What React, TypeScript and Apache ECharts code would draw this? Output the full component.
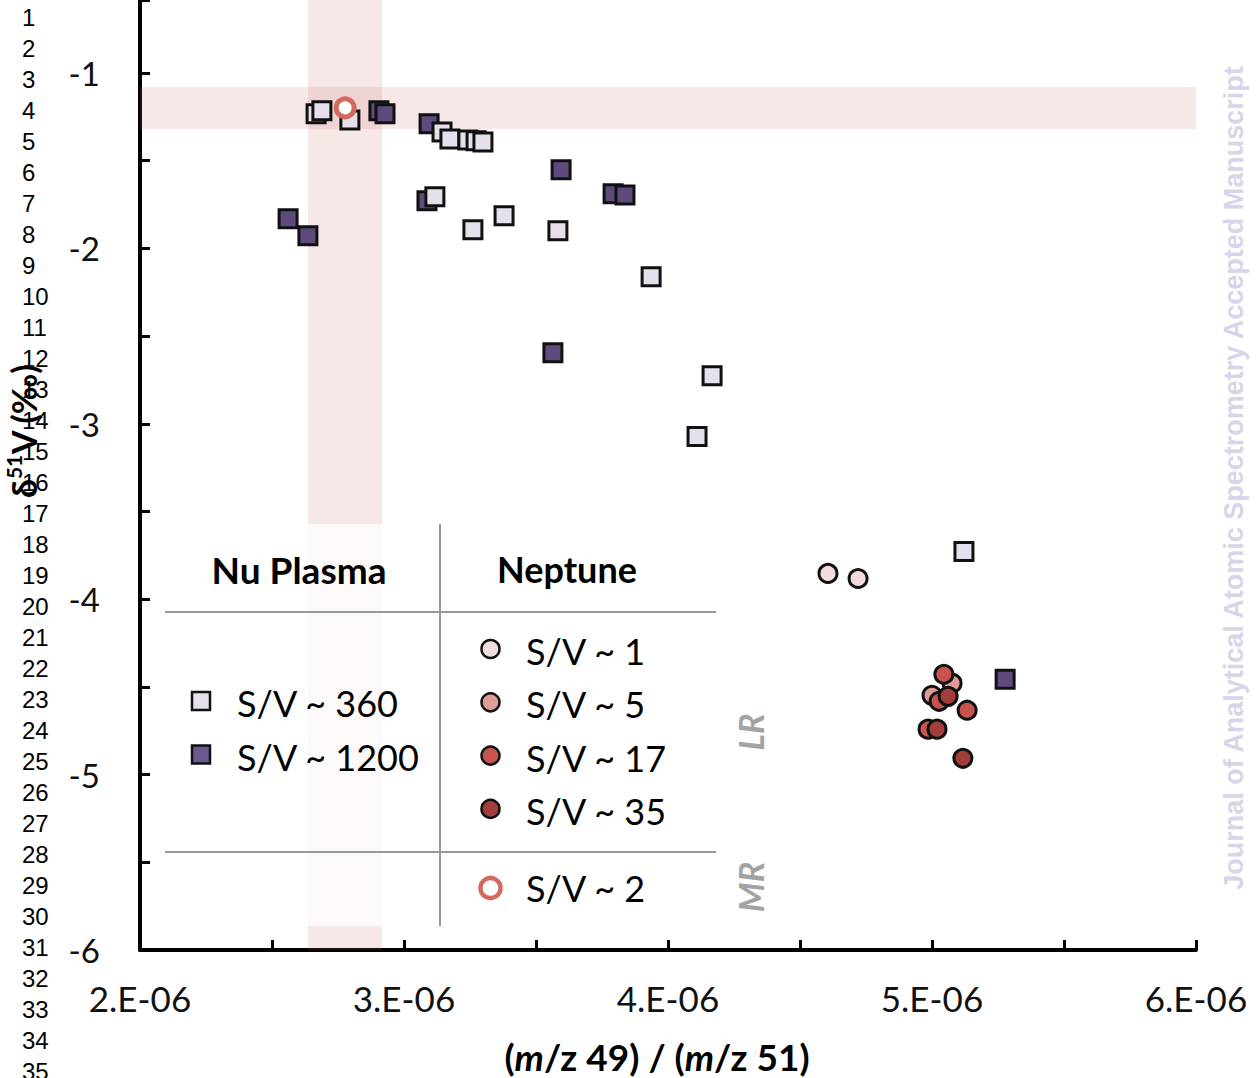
import React, { useEffect, useRef } from 'react';
import * as echarts from 'echarts';

// ---- Data (x = m/z49 / m/z51 ratio, y = δ51V ‰) ----
const nuPlasma360: [number, number][] = [
  [2.667e-6, -1.233], [2.689e-6, -1.216], [2.795e-6, -1.268], [3.144e-6, -1.336],
  [3.174e-6, -1.376], [3.242e-6, -1.382], [3.273e-6, -1.387], [3.299e-6, -1.393],
  [3.117e-6, -1.706], [3.261e-6, -1.894], [3.379e-6, -1.814], [3.583e-6, -1.900],
  [3.936e-6, -2.162], [4.167e-6, -2.726], [4.110e-6, -3.073], [5.121e-6, -3.728],
];
const nuPlasma1200: [number, number][] = [
  [2.561e-6, -1.831], [2.636e-6, -1.928], [2.905e-6, -1.216], [2.928e-6, -1.233],
  [3.095e-6, -1.290], [3.087e-6, -1.729], [3.595e-6, -1.552], [3.564e-6, -2.595],
  [3.792e-6, -1.689], [3.837e-6, -1.695], [5.277e-6, -4.457],
];
const neptune1: [number, number][] = [[4.606e-6, -3.853], [4.720e-6, -3.882]];
const neptune5: [number, number][] = [[5.076e-6, -4.479], [5.000e-6, -4.548]];
const neptune17: [number, number][] = [
  [5.045e-6, -4.428], [5.027e-6, -4.582], [5.133e-6, -4.633], [4.985e-6, -4.741],
];
const neptune35: [number, number][] = [[5.061e-6, -4.554], [5.019e-6, -4.741], [5.117e-6, -4.907]];
const neptuneMR2: [number, number][] = [[2.777e-6, -1.199]];

const bandX = [2.636e-6, 2.917e-6];
const bandY = [-1.08, -1.319];

const nuPlasmaLabels = ['S/V ~ 360', 'S/V ~ 1200'];
const neptuneLabels = ['S/V ~ 1', 'S/V ~ 5', 'S/V ~ 17', 'S/V ~ 35'];
const neptuneMRLabel = 'S/V ~ 2';
const lineNumbers = ['1','2','3','4','5','6','7','8','9','10','11','12','13','14','15','16','17','18','19','20','21','22','23','24','25','26','27','28','29','30','31','32','33','34','35'];

const C_LIGHT = '#e5e0ec';
const C_DARK = '#5e4a7c';
const C1 = '#f2dcdc';
const C5 = '#de9b98';
const C17 = '#c9544f';
const C35 = '#a23d3a';
const CMR = '#d4695f';
const FONT = 'Lato';

export default function App() {
  const ref = useRef<HTMLDivElement>(null);
  useEffect(() => {
    if (!ref.current) return;
    const chart = echarts.init(ref.current, undefined, { renderer: 'svg' });

    const sq = (name: string, data: [number, number][], color: string) => ({
      name, type: 'scatter', data, symbol: 'rect', symbolSize: 18,
      itemStyle: { color, borderColor: '#111', borderWidth: 3, opacity: 1 },
      z: 3,
    });
    const ci = (name: string, data: [number, number][], color: string) => ({
      name, type: 'scatter', data, symbol: 'circle', symbolSize: 18,
      itemStyle: { color, borderColor: '#111', borderWidth: 3, opacity: 1 },
      z: 3,
    });

    const graphics: any[] = [];
    lineNumbers.forEach((t, i) => {
      graphics.push({
        type: 'text', x: 22, y: 17 + i * 31.0, z: 200,
        style: { text: t, fontSize: 24, fontFamily: 'Liberation Sans', fill: '#000', align: 'left', verticalAlign: 'middle' },
      });
    });
    // legend box
    graphics.push({ type: 'rect', shape: { x: 165, y: 524, width: 551, height: 402 }, style: { fill: 'rgba(255,255,255,0.75)' }, z: 100 });
    graphics.push({ type: 'line', shape: { x1: 440, y1: 524, x2: 440, y2: 926 }, style: { stroke: '#999', lineWidth: 2 }, z: 101 });
    graphics.push({ type: 'line', shape: { x1: 165, y1: 612, x2: 716, y2: 612 }, style: { stroke: '#999', lineWidth: 2 }, z: 101 });
    graphics.push({ type: 'line', shape: { x1: 165, y1: 852, x2: 716, y2: 852 }, style: { stroke: '#999', lineWidth: 2 }, z: 101 });
    graphics.push({ type: 'text', x: 299, y: 569, z: 101, style: { text: 'Nu Plasma', fontSize: 37, fontWeight: 'bold', fontFamily: FONT, fill: '#000', align: 'center', verticalAlign: 'middle' } });
    graphics.push({ type: 'text', x: 567, y: 569, z: 101, style: { text: 'Neptune', fontSize: 36, fontWeight: 'bold', fontFamily: FONT, fill: '#000', align: 'center', verticalAlign: 'middle' } });
    const sqCols = [C_LIGHT, '#6c5990'];
    nuPlasmaLabels.forEach((t, i) => {
      const y = 701 + i * 53.5;
      graphics.push({ type: 'rect', shape: { x: 192, y: y - 9, width: 18, height: 18 }, style: { fill: sqCols[i], stroke: '#111', lineWidth: 2.5 }, z: 101 });
      graphics.push({ type: 'text', x: 237, y: y + 2, z: 101, style: { text: t, fontSize: 36, fontFamily: FONT, fill: '#000', align: 'left', verticalAlign: 'middle' } });
    });
    const ciCols = [C1, C5, C17, C35];
    neptuneLabels.forEach((t, i) => {
      const y = 649 + i * 53.3;
      graphics.push({ type: 'circle', shape: { cx: 490.5, cy: y, r: 9 }, style: { fill: ciCols[i], stroke: '#111', lineWidth: 2.5 }, z: 101 });
      graphics.push({ type: 'text', x: 526, y: y + 2, z: 101, style: { text: t, fontSize: 36, fontFamily: FONT, fill: '#000', align: 'left', verticalAlign: 'middle' } });
    });
    graphics.push({ type: 'circle', shape: { cx: 490.5, cy: 888, r: 10 }, style: { fill: '#fff', stroke: CMR, lineWidth: 4.5 }, z: 101 });
    graphics.push({ type: 'text', x: 526, y: 888, z: 101, style: { text: neptuneMRLabel, fontSize: 36, fontFamily: FONT, fill: '#000', align: 'left', verticalAlign: 'middle' } });
    // LR / MR
    graphics.push({ type: 'text', x: 750, y: 732, rotation: Math.PI / 2, z: 101, style: { text: 'LR', fontSize: 34, fontWeight: 'bold', fontStyle: 'italic', fontFamily: FONT, fill: '#a3a3a3', align: 'center', verticalAlign: 'middle' } });
    graphics.push({ type: 'text', x: 750, y: 887, rotation: Math.PI / 2, z: 101, style: { text: 'MR', fontSize: 34, fontWeight: 'bold', fontStyle: 'italic', fontFamily: FONT, fill: '#a3a3a3', align: 'center', verticalAlign: 'middle' } });
    // watermark
    graphics.push({ type: 'text', x: 1234, y: 478, rotation: Math.PI / 2, z: 101, style: { text: 'Journal of Analytical Atomic Spectrometry Accepted Manuscript', fontSize: 27, fontWeight: 'bold', fontFamily: 'Liberation Sans', fill: '#d8d4ea', align: 'center', verticalAlign: 'middle' } });
    // axis titles
    graphics.push({
      type: 'text', x: 657, y: 1056, z: 101,
      style: {
        text: '{b|(}{i|m}{b|/z 49) / (}{i|m}{b|/z 51)}', align: 'center', verticalAlign: 'middle',
        rich: {
          b: { fontSize: 37, fontWeight: 'bold', fontFamily: FONT, fill: '#000', color: '#000' },
          i: { fontSize: 37, fontWeight: 'bold', fontStyle: 'italic', fontFamily: FONT, fill: '#000', color: '#000' },
        },
      },
    });
    graphics.push({
      type: 'text', x: 23, y: 431, rotation: Math.PI / 2, z: 150,
      style: {
        text: '{a|δ}{s|51}{a|V (‰)}', align: 'center', verticalAlign: 'middle',
        rich: {
          a: { fontSize: 34, fontWeight: 'bold', fontFamily: FONT, color: '#000', fill: '#000', lineHeight: 40 },
          s: { fontSize: 21, fontWeight: 'bold', fontFamily: FONT, color: '#000', fill: '#000', verticalAlign: 'top', padding: [0, 0, 12, 0] },
        },
      },
    });

    chart.setOption({
      animation: false,
      grid: { left: 140, right: 62, top: 0, bottom: 128, containLabel: false },
      xAxis: {
        type: 'value', min: 2e-6, max: 6e-6, interval: 5e-7,
        axisLine: { lineStyle: { color: '#000', width: 4 } },
        axisTick: { inside: true, length: 10, lineStyle: { color: '#000', width: 3 } },
        splitLine: { show: false },
        axisLabel: {
          margin: 30, fontSize: 35, fontFamily: FONT, color: '#111',
          formatter: (v: number) => {
            const n = v * 1e6; const r = Math.round(n);
            return Math.abs(n - r) < 1e-6 ? `${r}.E-06` : '';
          },
        },
      },
      yAxis: {
        type: 'value', min: -6, max: -0.584, interval: 0.5,
        axisLine: { lineStyle: { color: '#000', width: 4 } },
        axisTick: { inside: true, length: 10, lineStyle: { color: '#000', width: 3 } },
        splitLine: { show: false },
        axisLabel: {
          margin: 40, fontSize: 33, fontFamily: FONT, color: '#111',
          formatter: (v: number) => {
            const r = Math.round(v);
            return Math.abs(v - r) < 1e-9 ? `${r}` : '';
          },
        },
      },
      graphic: { elements: graphics },
      series: [
        {
          type: 'scatter', data: [], silent: true, z: 1,
          markArea: {
            silent: true,
            itemStyle: { color: 'rgba(200,100,100,0.15)' },
            data: [
              [{ xAxis: bandX[0] }, { xAxis: bandX[1] }],
              [{ yAxis: bandY[0] }, { yAxis: bandY[1] }],
            ],
          },
        },
        sq('S/V ~ 1200', nuPlasma1200, C_DARK),
        sq('S/V ~ 360', nuPlasma360, C_LIGHT),
        ci('S/V ~ 1', neptune1, C1),
        ci('S/V ~ 5', neptune5, C5),
        ci('S/V ~ 17', neptune17, C17),
        ci('S/V ~ 35', neptune35, C35),
        {
          name: 'S/V ~ 2', type: 'scatter', data: neptuneMR2, symbol: 'circle', symbolSize: 18,
          itemStyle: { color: '#fff', borderColor: CMR, borderWidth: 5, opacity: 1 }, z: 4,
        },
      ],
    });
    return () => chart.dispose();
  }, []);
  return <div ref={ref} style={{ position: 'absolute', left: 0, top: 0, width: 1258, height: 1078 }} />;
}
